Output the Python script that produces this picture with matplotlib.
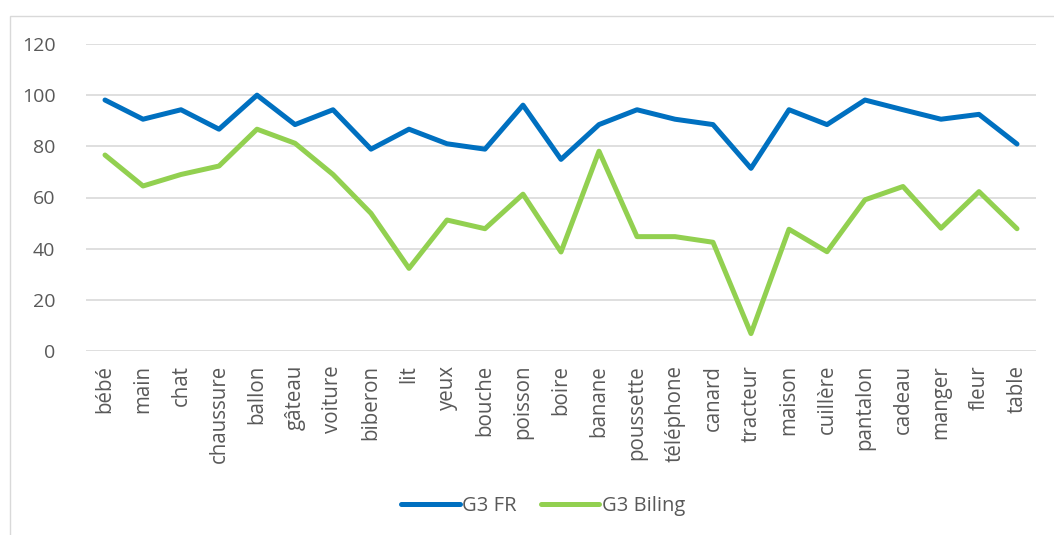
import matplotlib
matplotlib.use("Agg")
import matplotlib.pyplot as plt
from matplotlib.patches import Rectangle

categories = ["bébé", "main", "chat", "chaussure", "ballon", "gâteau", "voiture",
              "biberon", "lit", "yeux", "bouche", "poisson", "boire", "banane",
              "poussette", "téléphone", "canard", "tracteur", "maison", "cuillère",
              "pantalon", "cadeau", "manger", "fleur", "table"]
g3_fr = [98.1, 90.6, 94.3, 86.7, 100, 88.5, 94.3, 78.9, 86.7, 81.0, 78.9, 96.1,
         74.9, 88.5, 94.3, 90.6, 88.5, 71.4, 94.3, 88.5, 98.1, 94.3, 90.6, 92.5, 80.9]
g3_biling = [76.6, 64.5, 69.0, 72.3, 86.7, 81.2, 69.0, 53.8, 32.3, 51.2, 47.8, 61.3,
             38.7, 78.1, 44.7, 44.7, 42.5, 6.8, 47.6, 38.8, 59.1, 64.3, 48.0, 62.3, 47.8]
y_ticks = [0, 20, 40, 60, 80, 100, 120]

plt.rcParams['font.family'] = ['Open Sans', 'DejaVu Sans']

W, H = 1054, 535
fig = plt.figure(figsize=(W / 100, H / 100), dpi=100)
ax = fig.add_axes([86 / W, 1 - 351 / H, (1036 - 86) / W, (351 - 44) / H])

# chart-area border
fig.patches.append(Rectangle((9.5 / W, -0.1), 1.2, 1 - 15.5 / H + 0.1,
                             transform=fig.transFigure, fill=False,
                             edgecolor="#D9D9D9", linewidth=1.0, zorder=0))

x = list(range(len(categories)))
ax.plot(x, g3_fr, color="#0070C0", linewidth=3.6, label="G3 FR",
        solid_joinstyle="round", solid_capstyle="round", zorder=3)
ax.plot(x, g3_biling, color="#92D050", linewidth=3.6, label="G3 Biling",
        solid_joinstyle="round", solid_capstyle="round", zorder=3)

ax.set_xlim(-0.5, len(categories) - 0.5)
ax.set_ylim(0, 120)
ax.set_yticks(y_ticks)
ax.set_xticks(x)
ax.set_xticklabels(categories, rotation=90, fontsize=14.8, color="#595959")
ax.tick_params(axis="y", labelsize=14, labelcolor="#595959", length=0, pad=22)
ax.tick_params(axis="x", length=0, pad=10)
ax.grid(axis="y", color="#D9D9D9", linewidth=1.2)
ax.set_axisbelow(True)
for s in ax.spines.values():
    s.set_visible(False)

leg = fig.legend(loc="center", bbox_to_anchor=(543 / W, 1 - 506 / H), ncol=2,
                 frameon=False, fontsize=14.5, handlelength=2.9, handletextpad=0.12,
                 columnspacing=1.2)
for t in leg.get_texts():
    t.set_color("#595959")

fig.savefig("out.png", dpi=100)
